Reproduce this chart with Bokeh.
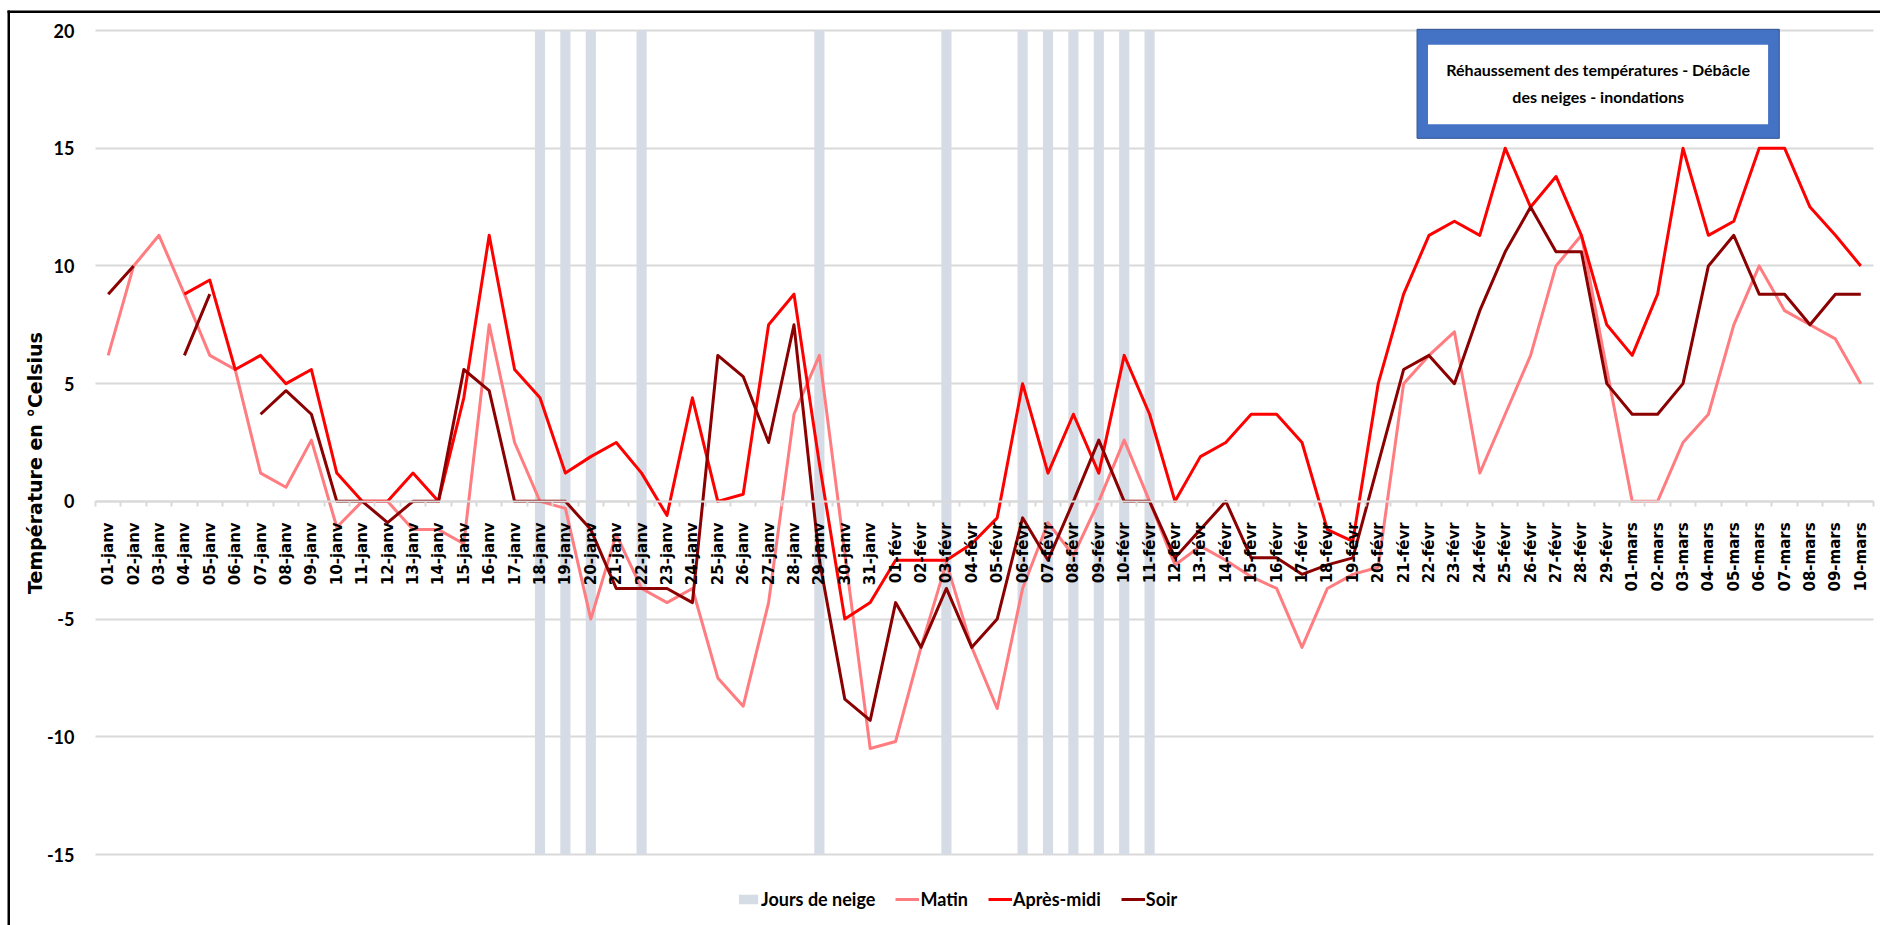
import math
from bokeh.plotting import figure
from bokeh.models import (Range1d, LinearAxis, FixedTicker, Legend, LegendItem, Grid,
                          BoxAnnotation, Label, CustomJSTickFormatter)
from bokeh.embed import file_html
from bokeh.resources import INLINE

nan = float("nan")

# ---- Catégories (jours) ----
jours = ([f"{d:02d}-janv" for d in range(1, 32)]
         + [f"{d:02d}-févr" for d in range(1, 30)]
         + [f"{d:02d}-mars" for d in range(1, 11)])

# ---- Séries (°C) ----
matin = [6.2, 10.0, 11.3, 8.8, 6.2, 5.6, 1.2, 0.6, 2.6, -1.1,
         0.0, 0.0, -1.2, -1.2, -1.8, 7.5, 2.5, 0.0, -0.3, -5.0,
         -1.4, -3.7, -4.3, -3.7, -7.5, -8.7, -4.3, 3.7, 6.2, -2.2,
         -10.5,
         -10.2, -6.2, -2.6, -6.2, -8.8, -3.7, -0.9, -2.3, 0.0, 2.6,
         0.0, -2.7, -1.9, -2.5, -3.2, -3.7, -6.2, -3.7, -3.1, -2.8,
         5.0, 6.2, 7.2, 1.2, 3.7, 6.2, 10.0, 11.3, 5.6,
         0.0, 0.0, 2.5, 3.7, 7.5, 10.0, 8.1, 7.5, 6.9, 5.0]

apres_midi = [nan, nan, nan, 8.8, 9.4, 5.6, 6.2, 5.0, 5.6, 1.2,
              0.0, 0.0, 1.2, 0.0, 4.4, 11.3, 5.6, 4.4, 1.2, 1.9,
              2.5, 1.2, -0.6, 4.4, 0.0, 0.3, 7.5, 8.8, 1.6, -5.0,
              -4.3,
              -2.5, -2.5, -2.5, -1.8, -0.7, 5.0, 1.2, 3.7, 1.2, 6.2,
              3.7, 0.0, 1.9, 2.5, 3.7, 3.7, 2.5, -1.2, -1.7, 5.0,
              8.8, 11.3, 11.9, 11.3, 15.0, 12.5, 13.8, 11.3, 7.5,
              6.2, 8.8, 15.0, 11.3, 11.9, 15.0, 15.0, 12.5, 11.3, 10.0]

soir = [8.8, 10.0, nan, 6.2, 8.8, nan, 3.7, 4.7, 3.7, 0.0,
        0.0, -0.9, 0.0, 0.0, 5.6, 4.7, 0.0, 0.0, 0.0, -1.2,
        -3.7, -3.7, -3.7, -4.3, 6.2, 5.3, 2.5, 7.5, -2.5, -8.4,
        -9.3,
        -4.3, -6.2, -3.7, -6.2, -5.0, -0.7, -2.5, 0.0, 2.6, 0.0,
        0.0, -2.4, -1.2, 0.0, -2.4, -2.4, -3.1, -2.7, -2.4, 1.6,
        5.6, 6.2, 5.0, 8.1, 10.6, 12.5, 10.6, 10.6, 5.0,
        3.7, 3.7, 5.0, 10.0, 11.3, 8.8, 8.8, 7.5, 8.8, 8.8]

jours_de_neige = ["18-janv", "19-janv", "20-janv", "22-janv", "29-janv", "03-févr",
                  "06-févr", "07-févr", "08-févr", "09-févr", "10-févr", "11-févr"]

y_ticks = [-15, -10, -5, 0, 5, 10, 15, 20]
y_bas, y_haut = y_ticks[0], y_ticks[-1]

# ---- Styles / mise en page ----
C_NEIGE = "#D6DCE5"
C_MATIN = "#FF7C80"
C_APM = "#FF0000"
C_SOIR = "#8B0000"
C_GRID = "#D9D9D9"
NARROW = "Lato"
W, H = 1880, 925
PX_X = 25.4          # pixels per category
PX_Y = 23.543        # pixels per degree
FRAME_LEFT = 95      # px from left where the category area starts
TOP_20 = 30          # px from top of the 20 °C line

n = len(jours)
x_lo = -0.5 - FRAME_LEFT / PX_X
x_hi = x_lo + W / PX_X
y_hi = y_haut + TOP_20 / PX_Y
y_lo = y_hi - H / PX_Y
x_idx = list(range(n))
cat_bounds = (-0.5, n - 0.5)

p = figure(width=W, height=H,
           x_range=Range1d(x_lo, x_hi), y_range=Range1d(y_lo, y_hi),
           x_axis_type=None, y_axis_type=None,
           output_backend="svg", toolbar_location=None,
           min_border_left=0, min_border_right=0, min_border_top=0, min_border_bottom=0)
p.outline_line_color = None
p.background_fill_color = "white"
p.border_fill_color = "white"

# horizontal grid
grid = Grid(dimension=1, ticker=FixedTicker(ticks=y_ticks), grid_line_color=C_GRID,
            grid_line_width=2, cross_bounds=cat_bounds)
p.add_layout(grid)

# Y axis (fixed at the left edge of the category area)
yax = LinearAxis(ticker=FixedTicker(ticks=y_ticks), fixed_location=cat_bounds[0],
                 major_label_overrides={v: str(v) for v in y_ticks},
                 axis_line_color=None, major_tick_line_color=None, minor_tick_line_color=None,
                 major_label_text_font=NARROW, major_label_text_font_style="bold",
                 major_label_text_font_size="18px", major_label_text_color="black",
                 major_label_standoff=15,
                 axis_label="Température en °Celsius", axis_label_text_font="DejaVu Sans",
                 axis_label_text_font_style="bold", axis_label_text_font_size="19px",
                 axis_label_text_color="black", axis_label_standoff=-2)
p.add_layout(yax, "left")

# Snow days bars
neige_x = [jours.index(j) for j in jours_de_neige]
r_neige = p.vbar(x=neige_x, width=0.4, bottom=y_bas, top=y_haut,
                 fill_color=C_NEIGE, line_color=None)

# X axis: ticks at category boundaries + labels at centres
ax_ticks = LinearAxis(ticker=FixedTicker(ticks=[i - 0.5 for i in range(n + 1)]),
                      fixed_location=0, bounds=cat_bounds,
                      axis_line_color=C_GRID, axis_line_width=2,
                      major_tick_line_color=C_GRID, major_tick_line_width=2,
                      major_tick_in=0, major_tick_out=5, minor_tick_line_color=None,
                      formatter=CustomJSTickFormatter(code="return ''"))
p.add_layout(ax_ticks, "below")
ax_labels = LinearAxis(ticker=FixedTicker(ticks=x_idx),
                       major_label_overrides={i: j for i, j in enumerate(jours)},
                       major_label_orientation=math.pi / 2, fixed_location=0,
                       axis_line_color=None, major_tick_line_color=None,
                       minor_tick_line_color=None,
                       major_label_text_font="DejaVu Sans",
                       major_label_text_font_style="bold",
                       major_label_text_font_size="15px",
                       major_label_text_color="black",
                       major_label_standoff=15)
p.add_layout(ax_labels, "below")

# Lines
r_matin = p.line(x_idx, matin, line_color=C_MATIN, line_width=3, line_join="round")
r_apm = p.line(x_idx, apres_midi, line_color=C_APM, line_width=3, line_join="round")
r_soir = p.line(x_idx, soir, line_color=C_SOIR, line_width=3, line_join="round")

# Annotation box
p.add_layout(BoxAnnotation(left=51.53, right=65.79, bottom=15.42, top=20.05,
                           fill_color="#4472C4", fill_alpha=1,
                           line_color="#2F528F", line_width=1, line_alpha=1))
p.add_layout(BoxAnnotation(left=51.96, right=65.35, bottom=16.02, top=19.4,
                           fill_color="white", fill_alpha=1, line_color=None))
for txt, yy in [("Réhaussement des températures - Débâcle", 18.35),
                ("des neiges - inondations", 17.2)]:
    p.add_layout(Label(x=58.66, y=yy, text=txt, text_align="center", text_baseline="middle",
                       text_font=NARROW, text_font_style="bold", text_font_size="16px",
                       text_color="black"))

# Outer black frame (left and top edges of the picture)
p.add_layout(BoxAnnotation(left=7, right=9.5, top=H - 10, bottom=0,
                           left_units="screen", right_units="screen",
                           top_units="screen", bottom_units="screen",
                           fill_color="black", fill_alpha=1, line_color=None))
p.add_layout(BoxAnnotation(left=7, right=W, top=H - 10, bottom=H - 12.5,
                           left_units="screen", right_units="screen",
                           top_units="screen", bottom_units="screen",
                           fill_color="black", fill_alpha=1, line_color=None))

# Legend
legend = Legend(items=[LegendItem(label="Jours de neige", renderers=[r_neige]),
                       LegendItem(label="Matin", renderers=[r_matin]),
                       LegendItem(label="Après-midi", renderers=[r_apm]),
                       LegendItem(label="Soir", renderers=[r_soir])],
                orientation="horizontal", location=(736, 15),
                label_text_font=NARROW, label_text_font_style="bold",
                label_text_font_size="18px", label_text_color="black",
                glyph_width=24, glyph_height=12, label_standoff=1, spacing=20,
                padding=0, margin=0, label_height=20,
                border_line_color=None, background_fill_alpha=0)
p.add_layout(legend)

open("out.html", "w").write(file_html(p, INLINE))
